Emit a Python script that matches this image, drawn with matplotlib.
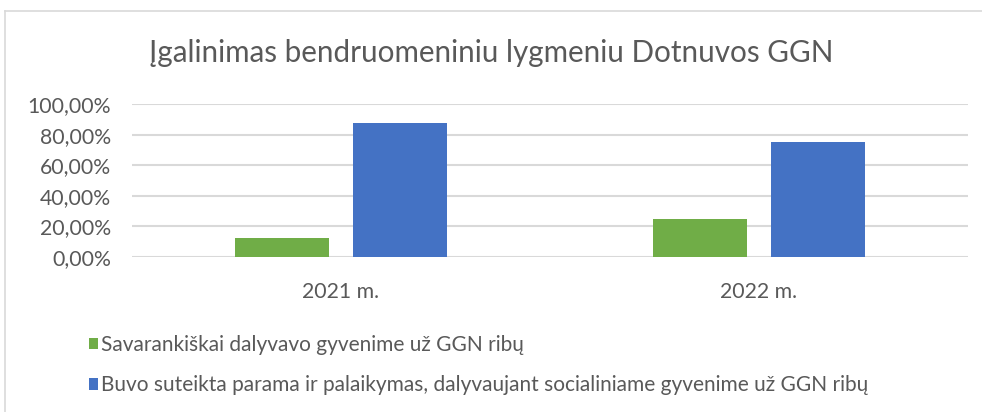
import numpy as np
import matplotlib
matplotlib.use("Agg")
import matplotlib.pyplot as plt
from matplotlib.lines import Line2D

# --- DATA ---
years = ['2021 m.', '2022 m.']
savarankiskai = [0.125, 0.25]
parama = [0.875, 0.75]
series_names = ['Savarankiškai dalyvavo gyvenime už GGN ribų',
                'Buvo suteikta parama ir palaikymas, dalyvaujant socialiniame gyvenime už GGN ribų']
title = 'Įgalinimas bendruomeniniu lygmeniu Dotnuvos GGN'

GREEN = '#70AD47'
BLUE = '#4472C4'
TEXT = '#595959'
GRID = '#D9D9D9'

plt.rcParams['font.family'] = ['Lato', 'DejaVu Sans']

fig = plt.figure(figsize=(9.82, 4.12), dpi=100)
ax = fig.add_axes([132 / 982, 1 - 257 / 412, (968 - 132) / 982, (257 - 104) / 412])

x = np.arange(len(years))
w = 0.225
off = 0.1415
ax.bar(x - off, savarankiskai, w, color=GREEN, zorder=3, label=series_names[0])
ax.bar(x + off, parama, w, color=BLUE, zorder=3, label=series_names[1])

ax.set_xlim(-0.5, len(years) - 0.5)
ax.set_ylim(0, 1)
yt = np.arange(0, 1.01, 0.2)
ax.set_yticks(yt)
ax.set_yticklabels([f'{v * 100:.2f}%'.replace('.', ',') for v in yt], color=TEXT, fontsize=15.3)
ax.set_xticks(x)
ax.set_xticklabels(years, color=TEXT, fontsize=15.3)
ax.tick_params(length=0)
ax.tick_params(axis='y', pad=15)
ax.tick_params(axis='x', pad=18)
ax.yaxis.grid(True, color=GRID, linewidth=1.5, zorder=0)
for s in ax.spines.values():
    s.set_visible(False)

fig.text(0.5, 1 - 53 / 412, title, ha='center', va='center', fontsize=21.3, color=TEXT)

leg = fig.legend(loc='upper left', bbox_to_anchor=(89 / 982, 1 - 335 / 412), frameon=False,
                 fontsize=15, handlelength=0.45, handleheight=0.45, handletextpad=0.12,
                 labelspacing=0.98, borderpad=0, borderaxespad=0)
for t in leg.get_texts():
    t.set_color(TEXT)

# chart frame (top and left edges visible)
fig.add_artist(Line2D([5 / 982, 5 / 982], [0, 1 - 11 / 412], transform=fig.transFigure, color=GRID, lw=1.2))
fig.add_artist(Line2D([5 / 982, 1], [1 - 11 / 412, 1 - 11 / 412], transform=fig.transFigure, color=GRID, lw=1.2))

fig.savefig('out.png', dpi=100)
